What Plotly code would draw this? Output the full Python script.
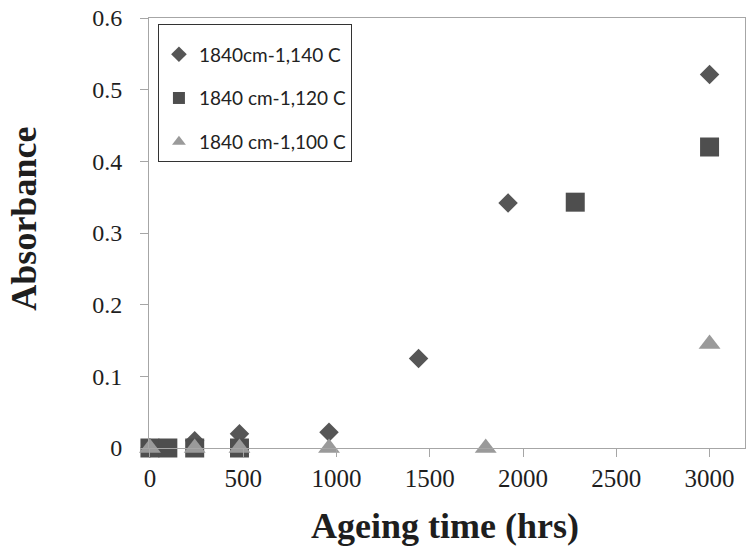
import plotly.graph_objects as go

# Data
x_140 = [0, 240, 480, 960, 1440, 1920, 3000]
y_140 = [0, 0.01, 0.02, 0.022, 0.125, 0.342, 0.521]

x_120 = [0, 96, 240, 480, 2280, 3000]
y_120 = [0, 0, 0, 0, 0.343, 0.42]

x_100 = [0, 240, 480, 960, 1800, 3000]
y_100 = [0, 0, 0, 0, 0, 0.145]

names = ["1840cm-1,140 C", "1840 cm-1,120 C", "1840 cm-1,100 C"]
x_ticks = [0, 500, 1000, 1500, 2000, 2500, 3000]
y_ticks = [0, 0.1, 0.2, 0.3, 0.4, 0.5, 0.6]
y_ticktext = ["0", "0.1", "0.2", "0.3", "0.4", "0.5", "0.6"]
x_title = "Ageing time (hrs)"
y_title = "Absorbance"

serif = "Liberation Serif"
ink = "#1e1e1e"

fig = go.Figure()
fig.add_trace(go.Scatter(x=x_140, y=y_140, mode="markers", name=names[0], legendgroup="a",
                         marker=dict(symbol="diamond", size=15, color="#565656", line=dict(width=0))))
fig.add_trace(go.Scatter(x=x_120, y=y_120, mode="markers", name=names[1], legendgroup="b",
                         marker=dict(symbol="square", size=19, color="#4e4e4e", line=dict(width=0))))
fig.add_trace(go.Scatter(x=x_100, y=y_100, mode="markers", name=names[2], legendgroup="c",
                         marker=dict(symbol="triangle-up", size=19, color="#9a9a9a", line=dict(width=0))))

fig.update_layout(
    width=746, height=547,
    margin=dict(l=149, r=1, t=18, b=99),
    paper_bgcolor="white", plot_bgcolor="white",
    showlegend=True,
    legend=dict(
        x=0.015, y=0.986, xanchor="left", yanchor="top",
        bgcolor="white", bordercolor="#333333", borderwidth=1,
        font=dict(family="Lato", size=19, color="#222222"),
        itemsizing="constant", tracegroupgap=16,
        title=dict(text=" ", font=dict(size=8)),
    ),
    xaxis=dict(
        range=[-5, 3190], tickvals=x_ticks, ticktext=[str(v) for v in x_ticks],
        showgrid=False, zeroline=False, showline=True, linecolor="#a6a6a6", linewidth=1,
        mirror=True, ticks="outside", ticklen=8, tickcolor="#a6a6a6",
        tickfont=dict(family=serif, size=25, color=ink),
    ),
    yaxis=dict(
        range=[0, 0.6], tickvals=y_ticks, ticktext=y_ticktext,
        showgrid=False, zeroline=False, showline=True, linecolor="#a6a6a6", linewidth=1,
        mirror=True, ticks="outside", ticklen=8, tickcolor="#a6a6a6",
        tickfont=dict(family=serif, size=24, color=ink), ticklabelstandoff=13,
    ),
    annotations=[
        dict(text="<b>" + x_title + "</b>", xref="paper", yref="paper", x=0.497, y=-0.13,
             xanchor="center", yanchor="top", showarrow=False,
             font=dict(family=serif, size=36, color=ink)),
        dict(text="<b>" + y_title + "</b>", xref="paper", yref="paper", x=-0.21, y=0.533,
             xanchor="center", yanchor="middle", showarrow=False, textangle=-90,
             font=dict(family=serif, size=36, color=ink)),
    ],
)
fig.update_traces(cliponaxis=False)
fig.write_html("out.html")
